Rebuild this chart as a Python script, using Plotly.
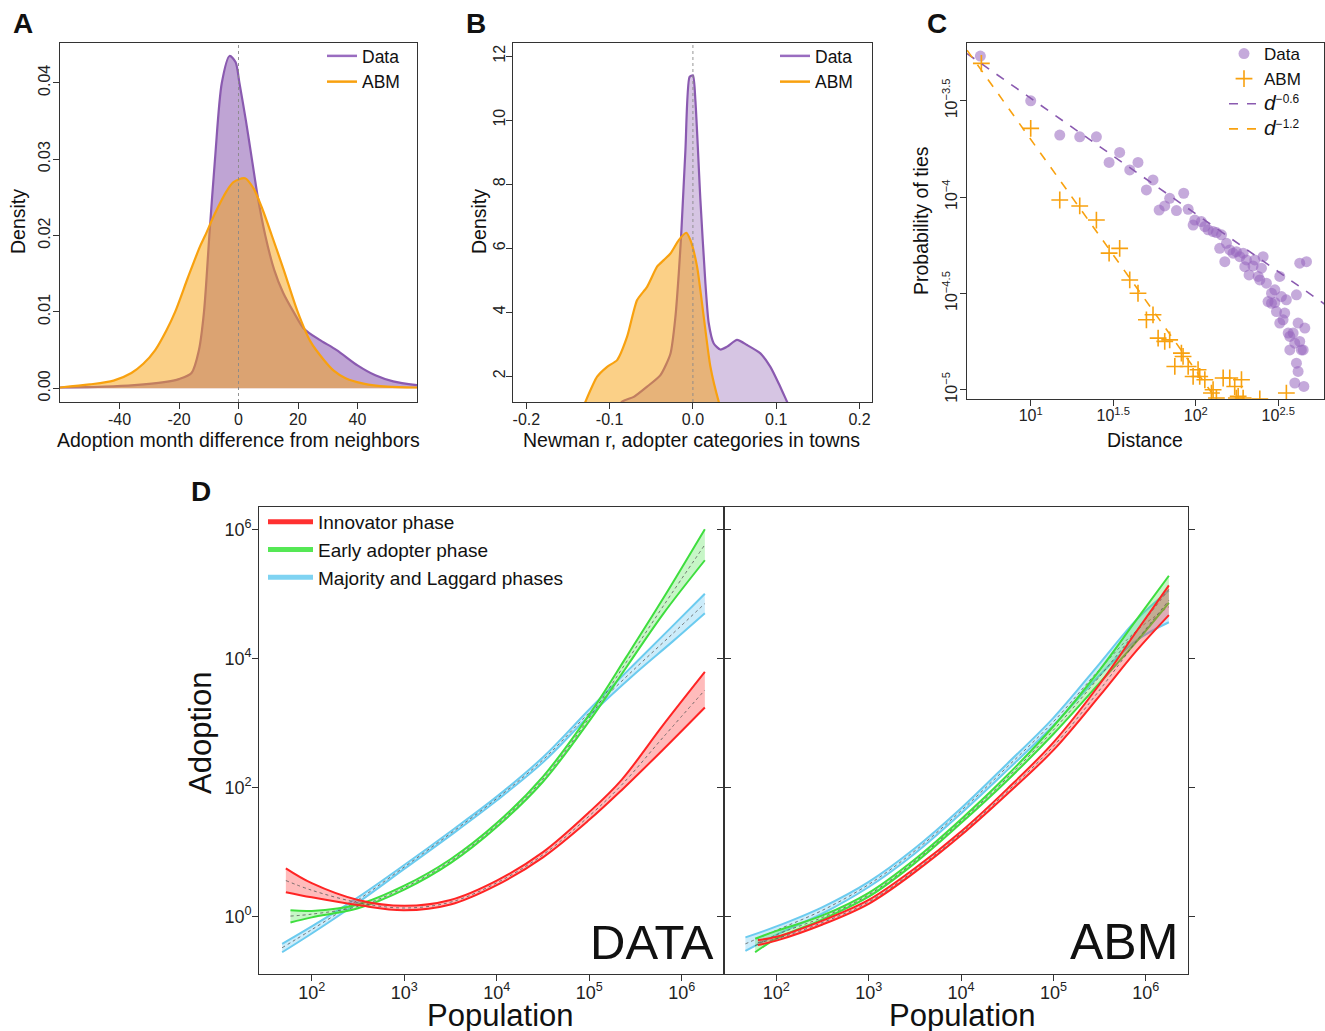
import numpy as np
import plotly.graph_objects as go

# ---------------- DATA ----------------
# Panel A: density of adoption month difference
a_data_x = [-60, -45, -35, -25, -20, -15.8, -13.3, -11.6, -9.8, -7.9, -5.6, -3, -1.0, 0.3, 2.5, 4.5, 6.5, 9, 12, 15, 18.5, 22, 27, 33, 40, 46, 52, 60]
a_data_y = [0.0001, 0.0002, 0.0004, 0.0008, 0.0012, 0.002, 0.005, 0.010, 0.020, 0.030, 0.040, 0.0435, 0.0427, 0.040, 0.035, 0.030, 0.025, 0.020, 0.0155, 0.0125, 0.010, 0.0078, 0.0064, 0.005, 0.003, 0.0017, 0.0009, 0.0004]
a_abm_x = [-60, -50, -42, -36, -32, -28, -24.2, -21.3, -17, -13, -11.2, -8, -4, -1.7, 2.2, 5, 8, 11.2, 15.2, 19.9, 24.2, 28.7, 32, 36, 42, 50, 60]
a_abm_y = [0.0001, 0.0005, 0.001, 0.002, 0.0032, 0.005, 0.0076, 0.010, 0.0145, 0.0185, 0.020, 0.0228, 0.0258, 0.0270, 0.0275, 0.0262, 0.0235, 0.020, 0.0155, 0.010, 0.0061, 0.0037, 0.0023, 0.0013, 0.0006, 0.0002, 0.0001]

# Panel B: density of Newman r
b_data_x = [-0.095, -0.085, -0.071, -0.055, -0.039, -0.027, -0.021, -0.017, -0.014, -0.009, -0.004, 0.0, 0.003, 0.009, 0.015, 0.019, 0.025, 0.033, 0.041, 0.053, 0.065, 0.081, 0.093, 0.103, 0.113, 0.120]
b_data_y = [0.8, 1.2, 1.35, 1.67, 2.03, 2.7, 3.85, 5.2, 6.46, 9.06, 11.35, 11.4, 10.6, 7.5, 4.9, 3.65, 3.02, 2.83, 2.92, 3.13, 2.97, 2.71, 2.29, 1.77, 1.2, 0.8]
b_abm_x = [-0.135, -0.129, -0.115, -0.103, -0.091, -0.079, -0.067, -0.055, -0.043, -0.035, -0.027, -0.017, -0.008, -0.003, 0.005, 0.013, 0.021, 0.031, 0.036]
b_abm_y = [0.8, 1.2, 1.98, 2.29, 2.5, 3.23, 4.375, 4.79, 5.42, 5.625, 5.83, 6.25, 6.48, 6.25, 5.42, 3.85, 2.29, 1.2, 0.8]

# Panel C: probability of ties vs distance (log10 values)
c_data_logd = [0.695, 1.0, 1.176, 1.297, 1.398, 1.539, 1.475, 1.650, 1.600, 1.741, 1.701, 1.842, 1.927, 1.778, 1.812, 1.883, 1.954, 1.994, 1.984, 2.034, 2.055, 2.075, 2.105, 2.125, 2.156, 2.145, 2.186, 2.176, 2.206, 2.226, 2.246, 2.267, 2.287, 2.307, 2.347, 2.323, 2.378, 2.408, 2.398, 2.428, 2.438, 2.459, 2.479, 2.489, 2.509, 2.519, 2.529, 2.539, 2.549, 2.560, 2.570, 2.590, 2.600, 2.610, 2.620, 2.630, 2.640, 2.651, 2.661, 2.671, 2.610, 2.620, 2.600, 2.655, 2.630, 2.570, 2.509, 2.479, 2.459, 2.297, 2.388, 2.358]
c_data_logp = [-3.268, -3.5, -3.678, -3.687, -3.687, -3.768, -3.820, -3.820, -3.859, -3.911, -3.963, -4.006, -3.980, -4.067, -4.046, -4.070, -4.063, -4.119, -4.145, -4.127, -4.153, -4.170, -4.179, -4.184, -4.196, -4.266, -4.240, -4.335, -4.274, -4.291, -4.283, -4.309, -4.291, -4.326, -4.357, -4.404, -4.412, -4.309, -4.369, -4.447, -4.542, -4.499, -4.547, -4.594, -4.412, -4.516, -4.637, -4.602, -4.533, -4.706, -4.723, -4.706, -4.758, -4.507, -4.654, -4.343, -4.793, -4.793, -4.680, -4.335, -4.862, -4.905, -4.965, -4.983, -4.749, -4.793, -4.654, -4.481, -4.551, -4.361, -4.430, -4.326]
c_abm_logd = [0.701, 1.0, 1.176, 1.297, 1.398, 1.475, 1.539, 1.600, 1.650, 1.701, 1.741, 1.772, 1.812, 1.842, 1.913, 1.923, 1.873, 1.954, 1.984, 2.014, 2.024, 2.055, 2.095, 2.105, 2.125, 2.166, 2.206, 2.236, 2.277, 2.257, 2.287, 2.388, 2.549, 2.246]
c_abm_logp = [-3.306, -3.643, -4.015, -4.046, -4.119, -4.291, -4.266, -4.430, -4.499, -4.637, -4.611, -4.732, -4.749, -4.741, -4.810, -4.827, -4.879, -4.879, -4.931, -4.896, -4.931, -4.948, -5.017, -5.0, -5.043, -4.939, -4.939, -4.983, -4.948, -5.034, -5.043, -5.048, -5.017, -5.043]
c_fit_data_logd = [0.614, 2.78]
c_fit_data_logp = [-3.255, -4.555]
c_fit_abm_logd = [0.614, 2.2]
c_fit_abm_logp = [-3.237, -5.14]

# Panel D: adoption vs population (log10 values), band lo / mid / hi
d_innov_x = [1.72, 2.0, 2.5, 3.0, 3.5, 4.0, 4.5, 5.0, 5.35, 5.8, 6.25]
d_innov_hi = [0.75, 0.52, 0.26, 0.17, 0.26, 0.56, 1.0, 1.62, 2.12, 2.97, 3.79]
d_innov_mid = [0.56, 0.41, 0.22, 0.135, 0.225, 0.525, 0.96, 1.56, 2.04, 2.78, 3.51]
d_innov_lo = [0.38, 0.30, 0.18, 0.10, 0.19, 0.49, 0.92, 1.50, 1.96, 2.59, 3.24]
d_early_x = [1.77, 2.0, 2.5, 3.0, 3.5, 4.0, 4.5, 5.0, 5.4, 5.8, 6.25]
d_early_hi = [0.10, 0.09, 0.19, 0.48, 0.89, 1.45, 2.17, 3.13, 4.02, 4.93, 6.0]
d_early_mid = [0.01, 0.04, 0.16, 0.45, 0.86, 1.42, 2.13, 3.08, 3.94, 4.81, 5.76]
d_early_lo = [-0.09, -0.01, 0.13, 0.42, 0.83, 1.39, 2.09, 3.03, 3.86, 4.69, 5.52]
d_major_x = [1.68, 2.0, 2.5, 3.0, 3.5, 4.0, 4.5, 5.0, 5.5, 5.9, 6.25]
d_major_hi = [-0.42, -0.15, 0.30, 0.80, 1.32, 1.86, 2.47, 3.21, 3.93, 4.5, 5.0]
d_major_mid = [-0.48, -0.2, 0.26, 0.77, 1.29, 1.83, 2.43, 3.16, 3.85, 4.38, 4.85]
d_major_lo = [-0.55, -0.26, 0.22, 0.74, 1.26, 1.80, 2.39, 3.11, 3.77, 4.26, 4.7]

m_innov_x = [1.8, 2.0, 2.5, 3.0, 3.5, 4.0, 4.5, 5.0, 5.5, 5.9, 6.25]
m_innov_hi = [-0.36, -0.31, -0.06, 0.26, 0.75, 1.32, 1.98, 2.70, 3.60, 4.42, 5.13]
m_innov_mid = [-0.40, -0.34, -0.09, 0.23, 0.72, 1.29, 1.94, 2.64, 3.51, 4.27, 4.9]
m_innov_lo = [-0.44, -0.37, -0.12, 0.20, 0.69, 1.26, 1.90, 2.58, 3.42, 4.12, 4.67]
m_early_x = [1.77, 2.0, 2.5, 3.0, 3.5, 4.0, 4.5, 5.0, 5.5, 5.9, 6.25]
m_early_hi = [-0.34, -0.22, 0.02, 0.37, 0.89, 1.51, 2.19, 2.95, 3.82, 4.6, 5.28]
m_early_mid = [-0.45, -0.28, -0.01, 0.34, 0.86, 1.48, 2.15, 2.89, 3.72, 4.43, 5.07]
m_early_lo = [-0.55, -0.34, -0.04, 0.31, 0.83, 1.45, 2.11, 2.83, 3.62, 4.26, 4.86]
m_major_x = [1.665, 2.0, 2.5, 3.0, 3.5, 4.0, 4.5, 5.0, 5.5, 5.9, 6.25]
m_major_hi = [-0.32, -0.15, 0.15, 0.54, 1.06, 1.68, 2.37, 3.08, 3.92, 4.6, 5.05]
m_major_mid = [-0.42, -0.21, 0.10, 0.50, 1.02, 1.64, 2.32, 3.02, 3.83, 4.43, 4.8]
m_major_lo = [-0.53, -0.28, 0.05, 0.46, 0.98, 1.60, 2.27, 2.96, 3.74, 4.28, 4.56]

phase_names = ["Innovator phase", "Early adopter phase", "Majority and Laggard phases"]

# ---------------- STYLE ----------------
W, H = 1325, 1031
FONT = "Liberation Sans, Arial, sans-serif"
PURPLE = "#8A5AB0"
ORANGE = "#F8A10F"
RED = "#FF2424"
GREEN = "#3EDE3E"
BLUE = "#6BCBEF"
AX = "#333333"

def px(x):
    return x / W

def py(y):
    return 1 - y / H

fig = go.Figure()

# ---- Panel A ----
fig.add_trace(go.Scatter(x=a_data_x, y=a_data_y, mode="lines", showlegend=False,
                         line=dict(color=PURPLE, width=2.2, shape="spline", smoothing=0.8),
                         fill="tozeroy", fillcolor="rgba(138,90,176,0.55)",
                         xaxis="x", yaxis="y"))
fig.add_trace(go.Scatter(x=a_abm_x, y=a_abm_y, mode="lines", showlegend=False,
                         line=dict(color=ORANGE, width=2.2, shape="spline", smoothing=0.8),
                         fill="tozeroy", fillcolor="rgba(248,161,15,0.5)",
                         xaxis="x", yaxis="y"))

# ---- Panel B ----
fig.add_trace(go.Scatter(x=b_data_x, y=b_data_y, mode="lines", showlegend=False,
                         line=dict(color=PURPLE, width=2.2, shape="spline", smoothing=0.6),
                         fill="tozeroy", fillcolor="rgba(138,90,176,0.35)",
                         xaxis="x2", yaxis="y2"))
fig.add_trace(go.Scatter(x=b_abm_x, y=b_abm_y, mode="lines", showlegend=False,
                         line=dict(color=ORANGE, width=2.2, shape="spline", smoothing=0.6),
                         fill="tozeroy", fillcolor="rgba(248,161,15,0.5)",
                         xaxis="x2", yaxis="y2"))

# legend-only entries for A and B
for leg, xa, ya in [("legend", "x", "y"), ("legend2", "x2", "y2")]:
    for nm, col in [("Data", "#9A6CC0"), ("ABM", ORANGE)]:
        fig.add_trace(go.Scatter(x=[None], y=[None], mode="lines", name=nm,
                                 line=dict(color=col, width=2.5),
                                 xaxis=xa, yaxis=ya, legend=leg))

# ---- Panel C ----
fig.add_trace(go.Scatter(x=10 ** np.array(c_data_logd), y=10 ** np.array(c_data_logp),
                         mode="markers", name="Data",
                         marker=dict(symbol="circle", size=11, color="rgba(150,100,190,0.55)"),
                         xaxis="x3", yaxis="y3", legend="legend3"))
fig.add_trace(go.Scatter(x=10 ** np.array(c_abm_logd), y=10 ** np.array(c_abm_logp),
                         mode="markers", name="ABM",
                         marker=dict(symbol="cross-thin", size=12, color=ORANGE,
                                     line=dict(color=ORANGE, width=1.6)),
                         xaxis="x3", yaxis="y3", legend="legend3"))
fig.add_trace(go.Scatter(x=10 ** np.array(c_fit_data_logd), y=10 ** np.array(c_fit_data_logp),
                         mode="lines", name='<span style="font-size:21px"><i>d</i></span><sup>−0.6</sup>',
                         line=dict(color=PURPLE, width=1.6, dash="dash"),
                         xaxis="x3", yaxis="y3", legend="legend3"))
fig.add_trace(go.Scatter(x=10 ** np.array(c_fit_abm_logd), y=10 ** np.array(c_fit_abm_logp),
                         mode="lines", name='<span style="font-size:21px"><i>d</i></span><sup>−1.2</sup>',
                         line=dict(color=ORANGE, width=1.6, dash="dash"),
                         xaxis="x3", yaxis="y3", legend="legend3"))

# ---- Panel D ----
def band(xl, lo, mid, hi, color, fillcolor, xa, ya):
    x = 10 ** np.array(xl)
    fig.add_trace(go.Scatter(x=x, y=10 ** np.array(lo), mode="lines",
                             line=dict(color=color, width=2, shape="spline"),
                             showlegend=False, hoverinfo="skip", xaxis=xa, yaxis=ya))
    fig.add_trace(go.Scatter(x=x, y=10 ** np.array(hi), mode="lines",
                             line=dict(color=color, width=2, shape="spline"),
                             fill="tonexty", fillcolor=fillcolor,
                             showlegend=False, hoverinfo="skip", xaxis=xa, yaxis=ya))
    fig.add_trace(go.Scatter(x=x, y=10 ** np.array(mid), mode="lines",
                             line=dict(color="#555555", width=0.8, dash="dot", shape="spline"),
                             showlegend=False, hoverinfo="skip", xaxis=xa, yaxis=ya))

RFILL = "rgba(255,60,60,0.35)"
GFILL = "rgba(70,225,70,0.3)"
BFILL = "rgba(110,200,240,0.35)"

band(d_major_x, d_major_lo, d_major_mid, d_major_hi, BLUE, BFILL, "x4", "y4")
band(d_early_x, d_early_lo, d_early_mid, d_early_hi, GREEN, GFILL, "x4", "y4")
band(d_innov_x, d_innov_lo, d_innov_mid, d_innov_hi, RED, RFILL, "x4", "y4")
band(m_major_x, m_major_lo, m_major_mid, m_major_hi, BLUE, BFILL, "x5", "y5")
band(m_early_x, m_early_lo, m_early_mid, m_early_hi, GREEN, GFILL, "x5", "y5")
band(m_innov_x, m_innov_lo, m_innov_mid, m_innov_hi, RED, RFILL, "x5", "y5")

for i, (name, col) in enumerate(zip(phase_names, ["#FF3030", "#55E855", "#7FD3F2"])):
    fig.add_trace(go.Scatter(x=[None], y=[None], mode="lines", name=name,
                             line=dict(color=col, width=5), legendgroup="g%d" % i,
                             xaxis="x4", yaxis="y4", legend="legend4"))

# ---------------- AXES ----------------
common = dict(showline=True, linecolor=AX, linewidth=1.2, mirror=True, ticks="outside",
              ticklen=6, tickcolor=AX, tickwidth=1.2, showgrid=False, zeroline=False,
              automargin=False, tickfont=dict(family=FONT, size=16, color="#222"))

yA = (py(402), py(43))
fig.update_layout(
    xaxis=dict(domain=[px(60), px(417)], range=[-60, 60], anchor="y",
               tickvals=[-40, -20, 0, 20, 40], ticktext=["-40", "-20", "0", "20", "40"],
               ticklabelstandoff=-3, **common),
    yaxis=dict(domain=list(yA), range=[-0.0018, 0.0452], anchor="x",
               tickvals=[0, 0.01, 0.02, 0.03, 0.04],
               ticktext=["0.00", "0.01", "0.02", "0.03", "0.04"], tickangle=-90,
               ticklabelstandoff=-3, **common),
    xaxis2=dict(domain=[px(513), px(872)], range=[-0.216, 0.215], anchor="y2",
                tickvals=[-0.2, -0.1, 0.0, 0.1, 0.2], ticktext=["-0.2", "-0.1", "0.0", "0.1", "0.2"],
                ticklabelstandoff=-3, **common),
    yaxis2=dict(domain=list(yA), range=[1.19, 12.41], anchor="x2",
                tickvals=[2, 4, 6, 8, 10, 12], ticktext=["2", "4", "6", "8", "10", "12"],
                tickangle=-90, ticklabelstandoff=-5, **common),
    xaxis3=dict(domain=[px(967), px(1324)], type="log", range=[0.614, 2.777], anchor="y3",
                tickvals=[10, 10 ** 1.5, 100, 10 ** 2.5],
                ticktext=["10<sup>1</sup>", "10<sup>1.5</sup>", "10<sup>2</sup>", "10<sup>2.5</sup>"],
                ticklabelstandoff=-4, **common),
    yaxis3=dict(domain=[py(399), py(43)], type="log", range=[-5.048, -3.2], anchor="x3",
                tickvals=[10 ** -3.5, 1e-4, 10 ** -4.5, 1e-5],
                ticktext=["10<sup>−3.5</sup>", "10<sup>−4</sup>", "10<sup>−4.5</sup>", "10<sup>−5</sup>"],
                tickangle=-90, ticklabelstandoff=-3, **common),
)

dcommon = {k: v for k, v in common.items() if k not in ("mirror", "tickfont")}
dfont = dict(family=FONT, size=18, color="#222")
dx_ticks = dict(tickvals=[1e2, 1e3, 1e4, 1e5, 1e6],
                ticktext=["10<sup>2</sup>", "10<sup>3</sup>", "10<sup>4</sup>", "10<sup>5</sup>", "10<sup>6</sup>"])
dy_ticks = dict(tickvals=[1e0, 1e2, 1e4, 1e6],
                ticktext=["10<sup>0</sup>", "10<sup>2</sup>", "10<sup>4</sup>", "10<sup>6</sup>"])
yD = [py(974), py(507.3)]
fig.update_layout(
    xaxis4=dict(domain=[px(259.3), px(724)], type="log", range=[1.433, 6.457], anchor="y4",
                tickfont=dfont, mirror=True, ticklabelstandoff=-4, **dx_ticks, **dcommon),
    yaxis4=dict(domain=yD, type="log", range=[-0.887, 6.34], anchor="x4", tickfont=dfont,
                mirror="ticks", ticklabelstandoff=-3, **dy_ticks, **dcommon),
    xaxis5=dict(domain=[px(724), px(1188)], type="log", range=[1.433, 6.457], anchor="y5",
                tickfont=dfont, mirror=True, ticklabelstandoff=-4, **dx_ticks, **dcommon),
    yaxis5=dict(domain=yD, type="log", range=[-0.887, 6.34], anchor="x5", tickfont=dfont,
                showticklabels=False, mirror="ticks", **dy_ticks, **dcommon),
)

# dotted zero lines
for xr, yr in [("x", "y"), ("x2", "y2")]:
    fig.add_shape(type="line", xref=xr, yref=yr + " domain",
                  x0=0, x1=0, y0=0, y1=1, line=dict(color="#888888", width=0.9, dash="dot"))

# ---------------- LEGENDS ----------------
leg_common = dict(bgcolor="rgba(0,0,0,0)", xanchor="left", yanchor="top",
                  itemclick=False, itemdoubleclick=False, traceorder="normal")
fig.update_layout(
    legend=dict(x=px(322), y=py(38), font=dict(family=FONT, size=17.5, color="#111"),
                tracegroupgap=0, **leg_common),
    legend2=dict(x=px(775), y=py(38), font=dict(family=FONT, size=17.5, color="#111"),
                 tracegroupgap=0, **leg_common),
    legend3=dict(x=px(1224), y=py(36), font=dict(family=FONT, size=17, color="#111"),
                 tracegroupgap=0, **leg_common),
    legend4=dict(x=px(263), y=py(503), font=dict(family=FONT, size=19, color="#111"),
                 itemwidth=45, tracegroupgap=3, **leg_common),
)

# ---------------- ANNOTATIONS ----------------
def txt(x, y, s, size, angle=0, bold=False, xanchor="center"):
    fig.add_annotation(x=px(x), y=py(y), xref="paper", yref="paper", text=("<b>%s</b>" % s if bold else s),
                       showarrow=False, textangle=angle, xanchor=xanchor, yanchor="middle",
                       font=dict(family=FONT, size=size, color="#111"))

txt(23, 24, "A", 28, bold=True)
txt(476, 24, "B", 28, bold=True)
txt(937, 24, "C", 28, bold=True)
txt(201, 492, "D", 28, bold=True)
txt(238, 440, "Adoption month difference from neighbors", 19.5)
txt(18, 222, "Density", 19.5, angle=-90)
txt(691, 440, "Newman r, adopter categories in towns", 19.5)
txt(479, 222, "Density", 19.5, angle=-90)
txt(1145, 440, "Distance", 19.5)
txt(921, 221, "Probability of ties", 19.5, angle=-90)
txt(200, 733, "Adoption", 31, angle=-90)
txt(500, 1015, "Population", 31)
txt(962, 1015, "Population", 31)
txt(716, 942, "DATA", 49, xanchor="right")
txt(1180, 942, "ABM", 50, xanchor="right")

fig.update_layout(width=W, height=H, margin=dict(l=0, r=0, t=0, b=0),
                  paper_bgcolor="white", plot_bgcolor="white",
                  font=dict(family=FONT, color="#222"), showlegend=True)

fig.write_html("out.html", config={"displayModeBar": False},
               post_script="document.body.style.margin='0px';")
